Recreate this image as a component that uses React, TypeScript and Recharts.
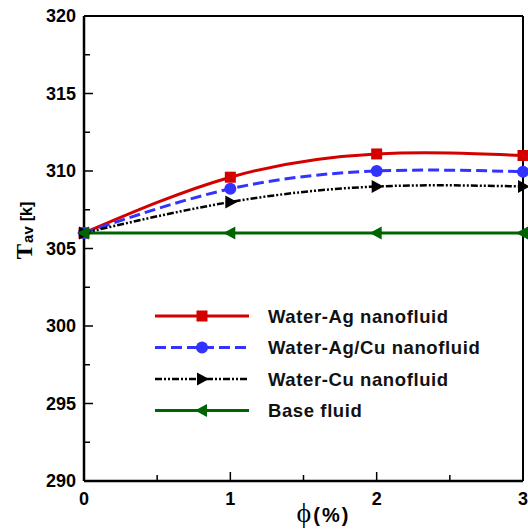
import React from 'react';
import { LineChart, Line, XAxis, YAxis, ReferenceLine } from 'recharts';

const phiValues = [0, 1, 2, 3];
const waterAg = [306, 309.6, 311.1, 311.0];
const waterAgCu = [306, 308.85, 310.0, 309.95];
const waterCu = [306, 308.0, 309.0, 309.0];
const baseFluid = [306, 306, 306, 306];

const xTicks = [0, 0.5, 1, 1.5, 2, 2.5, 3];
const yTicks = [290, 292.5, 295, 297.5, 300, 302.5, 305, 307.5, 310, 312.5, 315, 317.5, 320];

const seriesNames = ['Water-Ag nanofluid', 'Water-Ag/Cu nanofluid', 'Water-Cu nanofluid', 'Base fluid'];

const data = phiValues.map((p, i) => ({
  phi: p,
  ag: waterAg[i],
  agcu: waterAgCu[i],
  cu: waterCu[i],
  base: baseFluid[i],
}));

const SANS = 'Arial, "Liberation Sans", Helvetica, sans-serif';
const SERIF = '"Times New Roman", "Liberation Serif", serif';

type Shape = 'square' | 'circle' | 'tri-right' | 'tri-left';

const MarkerShape = ({ cx, cy, shape, color }: { cx: number; cy: number; shape: Shape; color: string }) => {
  if (cx == null || cy == null) return null;
  if (shape === 'square') return <rect x={cx - 5.5} y={cy - 5.5} width={11} height={11} fill={color} />;
  if (shape === 'circle') return <circle cx={cx} cy={cy} r={6} fill={color} />;
  if (shape === 'tri-right')
    return <polygon points={`${cx - 5},${cy - 6.5} ${cx + 7},${cy} ${cx - 5},${cy + 6.5}`} fill={color} />;
  return <polygon points={`${cx + 5},${cy - 6.5} ${cx - 7},${cy} ${cx + 5},${cy + 6.5}`} fill={color} />;
};

const series = [
  { key: 'ag', name: seriesNames[0], color: '#d40000', dash: undefined as string | undefined, width: 3, shape: 'square' as Shape },
  { key: 'agcu', name: seriesNames[1], color: '#3333ff', dash: '11 5', width: 3, shape: 'circle' as Shape },
  { key: 'cu', name: seriesNames[2], color: '#000000', dash: '7 2 2 2 2 2', width: 2.5, shape: 'tri-right' as Shape },
  { key: 'base', name: seriesNames[3], color: '#006400', dash: undefined as string | undefined, width: 3, shape: 'tri-left' as Shape },
];

const YTick = (props: any) => {
  const { x, y, payload } = props;
  const v = payload.value;
  const major = Math.abs(v % 5) < 1e-6;
  const axisX = x + 8;
  return (
    <g>
      <line x1={axisX} x2={axisX + (major ? 9 : 6)} y1={y} y2={y} stroke="#000" strokeWidth={1.5} />
      {major && (
        <text x={x} y={y} dy="0.36em" textAnchor="end" fontFamily={SANS} fontWeight="bold" fontSize={18} fill="#000">
          {v}
        </text>
      )}
    </g>
  );
};

const XTick = (props: any) => {
  const { x, y, payload } = props;
  const v = payload.value;
  const major = Math.abs(v % 1) < 1e-6;
  const axisY = y - 8;
  return (
    <g>
      <line x1={x} x2={x} y1={axisY} y2={axisY - (major ? 9 : 6)} stroke="#000" strokeWidth={1.5} />
      {major && (
        <text x={x} y={y} dy="0.9em" textAnchor="middle" fontFamily={SANS} fontWeight="bold" fontSize={18} fill="#000">
          {v}
        </text>
      )}
    </g>
  );
};

const YLabel = (props: any) => {
  const vb = props.viewBox || { x: 0, y: 16, width: 84, height: 465 };
  const cx = vb.x + 32;
  const cy = vb.y + vb.height / 2 - 18;
  return (
    <text x={cx} y={cy} textAnchor="middle" transform={`rotate(-90, ${cx}, ${cy})`} fill="#000">
      <tspan fontFamily={SERIF} fontWeight="bold" fontSize={23}>T</tspan>
      <tspan fontFamily={SANS} fontWeight="bold" fontSize={15} dx={1} dy={1}>av</tspan>
      <tspan fontFamily={SANS} fontWeight="bold" fontSize={16} dx={5} dy={-1}>[k]</tspan>
    </text>
  );
};

const XLabel = (props: any) => {
  const vb = props.viewBox || { x: 84, y: 481, width: 439, height: 48 };
  const sx = vb.x + vb.width / 2 - 7;
  const by = vb.y + 41;
  return (
    <text x={sx} y={by} textAnchor="start" fill="#000">
      <tspan fontFamily={SERIF} fontSize={28}>ϕ</tspan>
      <tspan fontFamily={SANS} fontWeight="bold" fontSize={20} dx={2} letterSpacing={2}>(%)</tspan>
    </text>
  );
};

const LegendBox = () => (
  <svg width={340} height={130} style={{ position: 'absolute', left: 150, top: 300 }}>
    {series.map((s, i) => {
      const cy = 16 + i * 31.5;
      return (
        <g key={s.key}>
          <line x1={5} x2={99} y1={cy} y2={cy} stroke={s.color} strokeWidth={s.width} strokeDasharray={s.dash} />
          <MarkerShape cx={52} cy={cy} shape={s.shape} color={s.color} />
          <text x={118} y={cy} dy="0.36em" fontFamily={SANS} fontWeight="bold" fontSize={18.5} letterSpacing={0.6} fill="#111">
            {s.name}
          </text>
        </g>
      );
    })}
  </svg>
);

export default function App() {
  return (
    <div style={{ position: 'absolute', left: 0, top: 0, width: 528, height: 529, background: '#fff' }}>
      <LineChart width={528} height={529} data={data} margin={{ top: 16, right: 5, bottom: 0, left: 0 }}>
        <XAxis
          dataKey="phi"
          type="number"
          domain={[0, 3]}
          ticks={xTicks}
          interval={0}
          height={48}
          tickSize={0}
          tickMargin={8}
          tickLine={false}
          tick={<XTick />}
          axisLine={{ stroke: '#000', strokeWidth: 2.5 }}
          label={<XLabel />}
        />
        <YAxis
          type="number"
          domain={[290, 320]}
          ticks={yTicks}
          interval={0}
          width={84}
          tickSize={0}
          tickMargin={8}
          tickLine={false}
          tick={<YTick />}
          axisLine={{ stroke: '#000', strokeWidth: 2.5 }}
          allowDataOverflow
          label={<YLabel />}
        />
        <ReferenceLine y={320} stroke="#000" strokeWidth={2} ifOverflow="visible" />
        <ReferenceLine x={3} stroke="#000" strokeWidth={2} ifOverflow="visible" />
        {series.map((s) => (
          <Line
            key={s.key}
            dataKey={s.key}
            name={s.name}
            type="natural"
            stroke={s.color}
            strokeWidth={s.width}
            strokeDasharray={s.dash}
            isAnimationActive={false}
            dot={(p: any) => <MarkerShape key={`${s.key}-${p.index}`} cx={p.cx} cy={p.cy} shape={s.shape} color={s.color} />}
            activeDot={false}
          />
        ))}
      </LineChart>
      <LegendBox />
    </div>
  );
}
